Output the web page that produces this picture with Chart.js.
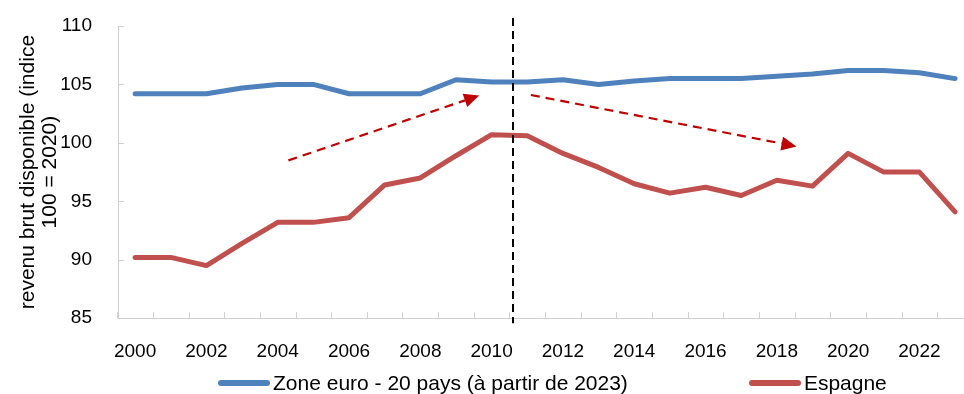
<!DOCTYPE html>
<html lang="fr">
<head>
<meta charset="utf-8">
<title>Revenu brut disponible</title>
<script src="https://cdn.jsdelivr.net/npm/chart.js@4.4.1/dist/chart.umd.min.js"></script>
<style>
  html, body { margin: 0; padding: 0; background: #fff; }
  #wrap { width: 964px; height: 394px; position: relative; }
  #legend {
    position: absolute; left: 218px; top: 371px;
    display: flex; align-items: center;
    font: 21px 'Liberation Sans', Arial, sans-serif; color: #000;
  }
  .legend-item { display: flex; align-items: center; white-space: nowrap; }
  .legend-item + .legend-item { margin-left: 121px; }
  .swatch { width: 52px; height: 6px; border-radius: 3px; margin-right: 3px; }
</style>
</head>
<body>
<div id="wrap">
  <canvas id="revenuChart"></canvas>
  <div id="legend"></div>
</div>
<script>
// Revenu brut disponible (indice 100 = 2020)
const years = [2000, 2001, 2002, 2003, 2004, 2005, 2006, 2007, 2008, 2009, 2010, 2011,
               2012, 2013, 2014, 2015, 2016, 2017, 2018, 2019, 2020, 2021, 2022, 2023];
const euroArea = [104.2, 104.2, 104.2, 104.7, 105.0, 105.0, 104.2, 104.2, 104.2, 105.4, 105.2, 105.2,
                  105.4, 105.0, 105.3, 105.5, 105.5, 105.5, 105.7, 105.9, 106.2, 106.2, 106.0, 105.5];
const spain = [90.2, 90.2, 89.5, 91.4, 93.2, 93.2, 93.6, 96.4, 97.0, 98.9, 100.7, 100.6,
               99.1, 97.9, 96.5, 95.7, 96.2, 95.5, 96.8, 96.3, 99.1, 97.5, 97.5, 94.1];
const yTicks = [85, 90, 95, 100, 105, 110];
const xLabelYears = [2000, 2002, 2004, 2006, 2008, 2010, 2012, 2014, 2016, 2018, 2020, 2022];
const seriesNames = ['Zone euro - 20 pays (à partir de 2023)', 'Espagne'];

// crisis marker and trend arrows, in axis units: [year, value, year, value]
const breakYear = 2010.6;
const trendUp = [2004.3, 98.5, 2009.65, 104.05];
const trendDown = [2011.1, 104.1, 2018.55, 99.7];

const BLUE = '#4F81BD';
const RED = '#C0504D';
const ARROW = '#C00000';
const AXIS = '#D0D0D0';
const FONT = "'Liberation Sans', Arial, sans-serif";

// small inside tick marks, dashed separator and arrows
const decorations = {
  id: 'decorations',
  afterDatasetsDraw(chart) {
    const { ctx, chartArea } = chart;
    const x = chart.scales.x;
    const y = chart.scales.y;
    ctx.save();

    ctx.strokeStyle = AXIS;
    ctx.lineWidth = 1;
    ctx.beginPath();
    for (let yr = years[0] - 0.5; yr <= x.max; yr += 1) {
      const px = Math.round(x.getPixelForValue(yr)) + 0.5;
      ctx.moveTo(px, chartArea.bottom);
      ctx.lineTo(px, chartArea.bottom - 6);
    }
    yTicks.forEach(v => {
      const py = Math.round(y.getPixelForValue(v)) + 0.5;
      ctx.moveTo(chartArea.left, py);
      ctx.lineTo(chartArea.left + 6, py);
    });
    ctx.stroke();

    // vertical break line
    const bx = x.getPixelForValue(breakYear);
    ctx.strokeStyle = '#000';
    ctx.lineWidth = 2;
    ctx.setLineDash([8, 5]);
    ctx.beginPath();
    ctx.moveTo(bx, chartArea.top - 8);
    ctx.lineTo(bx, chartArea.bottom + 5);
    ctx.stroke();

    [trendUp, trendDown].forEach(a => drawArrow(ctx,
      x.getPixelForValue(a[0]), y.getPixelForValue(a[1]),
      x.getPixelForValue(a[2]), y.getPixelForValue(a[3])));

    ctx.restore();
  }
};

function drawArrow(ctx, x1, y1, x2, y2) {
  const ang = Math.atan2(y2 - y1, x2 - x1);
  const head = 15;
  const half = 7;
  const bx = x2 - head * Math.cos(ang);
  const by = y2 - head * Math.sin(ang);
  ctx.strokeStyle = ARROW;
  ctx.fillStyle = ARROW;
  ctx.lineWidth = 2.2;
  ctx.setLineDash([9, 6]);
  ctx.beginPath();
  ctx.moveTo(x1, y1);
  ctx.lineTo(bx, by);
  ctx.stroke();
  ctx.setLineDash([]);
  ctx.beginPath();
  ctx.moveTo(x2, y2);
  ctx.lineTo(bx + half * Math.sin(ang), by - half * Math.cos(ang));
  ctx.lineTo(bx - half * Math.sin(ang), by + half * Math.cos(ang));
  ctx.closePath();
  ctx.fill();
}

function toPoints(values) {
  return values.map((v, i) => ({ x: years[i], y: v }));
}

function lineDataset(label, values, color) {
  return {
    label: label,
    data: toPoints(values),
    borderColor: color,
    backgroundColor: color,
    borderWidth: 5,
    pointRadius: 0,
    tension: 0,
    borderCapStyle: 'round',
    borderJoinStyle: 'round'
  };
}

// Legend below the chart
function buildLegend(chart) {
  const legend = document.getElementById('legend');
  legend.innerHTML = chart.data.datasets.map(ds => `
    <div class="legend-item">
      <span class="swatch" style="background:${ds.borderColor}"></span>
      <span>${ds.label}</span>
    </div>
  `).join('');
}

const ctx = document.getElementById('revenuChart').getContext('2d');
const chart = new Chart(ctx, {
  type: 'line',
  data: {
    datasets: [
      lineDataset(seriesNames[0], euroArea, BLUE),
      lineDataset(seriesNames[1], spain, RED)
    ]
  },
  options: {
    responsive: true,
    maintainAspectRatio: false,
    animation: false,
    layout: { padding: { top: 26, right: 0, bottom: 9, left: 0 } },
    scales: {
      x: {
        type: 'linear',
        min: 1999.52,
        max: 2023.25,
        grid: { display: false, drawTicks: false },
        border: { display: true, color: AXIS, width: 1 },
        afterBuildTicks: scale => {
          scale.ticks = xLabelYears.map(v => ({ value: v }));
        },
        ticks: {
          padding: 22,
          color: '#000',
          maxRotation: 0,
          autoSkip: false,
          font: { family: FONT, size: 19 },
          callback: v => String(v)
        }
      },
      y: {
        min: 85,
        max: 110,
        grid: { display: false, drawTicks: false },
        border: { display: true, color: AXIS, width: 1 },
        afterBuildTicks: scale => {
          scale.ticks = yTicks.map(v => ({ value: v }));
        },
        afterFit: scale => {
          scale.width = 118;
          scale.paddingTop = 0;
          scale.paddingBottom = 0;
        },
        ticks: {
          padding: 26,
          color: '#000',
          autoSkip: false,
          font: { family: FONT, size: 19 }
        },
        title: {
          display: true,
          text: ['revenu brut disponible (indice', '100 = 2020)'],
          color: '#000',
          font: { family: FONT, size: 21, lineHeight: 1.05 },
          padding: { top: 17, bottom: 0 }
        }
      }
    },
    plugins: {
      tooltip: { enabled: false },
      legend: { display: false }
    }
  },
  plugins: [decorations]
});

buildLegend(chart);
</script>
</body>
</html>
